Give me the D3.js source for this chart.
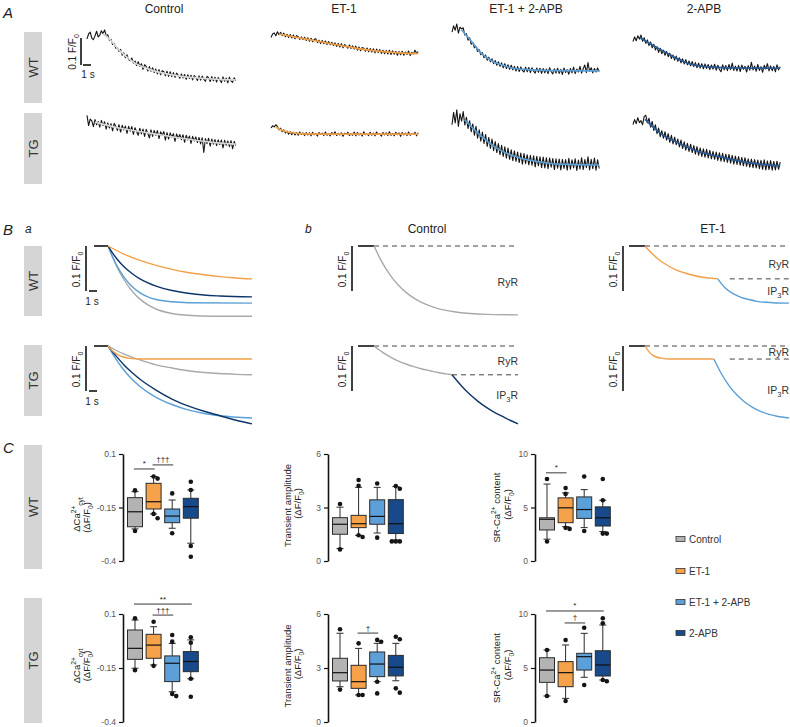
<!DOCTYPE html>
<html><head><meta charset="utf-8">
<script src="https://cdn.jsdelivr.net/npm/d3@7"></script>
<style>body{margin:0;background:#fff}svg{display:block}text{font-family:"Liberation Sans",Arial,Helvetica,sans-serif}</style>
</head><body><svg id="c" width="790" height="727"></svg>
<script>
// ---------------- DATA ----------------
const conditions = ["Control", "ET-1", "ET-1 + 2-APB", "2-APB"];
const genotypes = ["WT", "TG"];
const traceStep = 0.2; // s between samples

// Panel A: raw Ca2+ traces (units of 0.01 F/F0, relative)
const traceWTControl = [17.1,18.9,19.6,17.4,16.8,18.2,19.9,17.8,18.5,20.1,19.0,
  20.4,18.2,18.6,16.5,16.9,15.0,15.4,13.6,13.9,12.4,
  13.2,11.0,11.9,10.1,11.2,9.4,9.0,10.0,8.1,8.9,
  7.2,8.6,6.9,7.9,5.8,7.5,6.9,5.2,6.8,5.1,
  6.4,4.6,5.9,4.1,5.7,3.8,5.3,4.9,3.4,5.1,
  3.2,4.9,3.1,4.6,2.8,4.4,3.7,2.5,4.1,2.6,
  3.9,2.1,3.8,2.4,3.6,1.9,3.5,2.9,1.7,3.4,
  1.8,3.3,2.1,1.4,3.2,2.7,1.3,3.1,1.6,2.9,
  1.1,2.8,1.9,0.9,3.0,1.4,2.6,0.8,2.9,1.5,1.0,2.7,1.6];
const traceWTET1 = [17.6,18.9,19.3,18.2,19.7,18.6,19.5,18.3,19.2,17.9,18.8,
  17.6,18.7,17.4,18.5,17.1,18.3,17.9,16.9,17.8,16.8,
  17.7,16.5,17.5,16.2,17.3,16.0,16.9,17.1,15.7,16.6,
  15.4,16.5,15.3,16.3,15.0,16.1,14.9,15.8,14.6,15.6,
  14.3,15.4,14.1,15.3,13.8,15.0,14.4,13.6,14.8,13.5,
  14.5,13.3,14.4,12.9,14.1,12.7,13.9,13.6,12.5,13.7,
  12.3,13.5,12.2,13.4,11.9,13.3,12.0,13.1,11.7,12.9,
  11.6,12.8,11.5,12.9,11.3,12.7,11.4,12.5,11.0,12.4,
  11.2,12.5,11.0,12.2,11.3,12.6,10.9,12.1,11.5,12.9,11.8,12.4];
const traceWTET1APB = [19.6,21.9,20.3,22.6,19.2,21.4,20.8,
  21.2,18.5,19.0,16.6,17.5,15.1,15.7,13.8,14.2,12.4,
  13.1,11.2,12.0,10.1,11.1,9.2,10.3,8.6,9.7,7.9,
  9.1,7.3,8.6,6.9,8.2,6.4,7.9,6.1,7.5,5.8,
  7.3,5.6,6.9,5.2,6.8,5.0,6.7,5.4,4.8,6.6,
  4.9,6.5,4.6,6.4,5.1,4.4,6.3,4.7,6.2,4.3,
  6.1,4.5,5.9,4.2,6.4,5.0,4.1,6.0,4.4,6.2,
  4.3,5.8,3.9,6.3,4.6,5.7,4.0,6.1,4.5,6.6,
  4.2,5.9,4.8,6.9,4.4,6.0,7.4,4.6,8.3,5.1,
  6.4,4.5,6.1,4.8,6.3,5.0];
const traceWTAPB = [16.1,17.8,16.4,18.2,17.0,18.5,
  16.2,17.5,15.4,16.7,14.6,15.9,13.8,15.1,13.0,14.2,
  12.1,13.6,11.6,12.9,11.0,12.4,10.5,11.8,9.8,11.1,
  9.2,10.7,8.8,10.1,8.2,9.7,7.8,9.4,7.5,8.9,
  7.1,8.7,6.8,8.3,6.4,8.1,6.3,7.9,6.0,7.8,
  6.1,7.6,5.7,7.4,5.9,7.7,5.5,7.3,5.8,4.9,
  7.5,5.6,7.2,5.3,7.6,5.7,8.1,5.4,7.0,5.2,
  7.3,5.0,7.4,5.8,6.9,4.8,7.2,5.5,8.4,5.6,
  7.0,5.1,7.6,5.4,6.8,4.7,7.3,5.9,7.9,5.2,
  7.1,5.3,6.9,4.9,7.5,5.6,6.8];
const traceTGControl = [21.0,17.2,19.6,18.9,16.8,19.4,17.5,18.7,16.6,19.1,17.2,
  18.6,15.9,18.2,16.3,17.9,15.2,18.0,16.9,15.4,17.5,
  14.8,17.3,15.6,17.0,14.3,16.9,15.1,16.8,13.9,16.4,
  15.0,13.6,16.2,14.1,15.9,13.2,15.8,14.4,12.6,15.6,
  13.2,15.4,13.6,15.3,12.4,14.9,13.5,15.0,11.8,14.6,
  12.2,14.5,12.9,14.2,11.3,14.1,12.5,13.9,12.0,13.8,
  11.0,13.6,11.9,13.3,10.6,13.2,11.5,13.0,10.9,12.8,
  10.4,12.7,7.2,12.4,10.5,12.5,9.6,12.2,10.3,12.0,
  9.8,11.9,10.2,11.8,8.9,11.7,9.9,11.5,9.4,11.6,8.6,11.3,9.8];
const traceTGET1 = [16.3,17.1,16.7,17.5,
  16.9,15.6,16.2,14.9,15.6,14.4,15.2,14.0,14.9,13.8,
  14.7,13.7,14.6,13.6,14.8,13.9,14.5,13.5,14.6,13.7,
  14.5,13.4,14.7,13.8,14.3,13.3,14.6,13.9,14.4,13.5,
  14.8,13.6,14.2,13.4,14.6,13.8,14.9,13.5,14.3,13.7,
  14.5,13.2,14.4,13.9,14.7,13.5,14.2,13.6,14.8,13.4,
  14.6,13.7,14.3,13.3,14.9,13.8,14.1,13.5,14.7,13.6,
  14.4,13.4,14.8,13.9,14.2,13.3,14.6,13.7,14.5,13.5,
  14.9,13.6,14.3,13.4,14.7,13.8,14.5,13.2,14.6,13.7,
  14.4,13.5,14.8,13.6,14.2,13.9,14.7,13.4,14.5];
const traceTGET1APB = [17.5,22.1,18.2,23.0,16.9,21.6,18.8,22.4,
  17.4,20.3,16.1,19.0,14.9,17.8,13.6,16.9,12.5,15.6,
  11.4,14.8,10.6,13.9,9.5,12.8,8.7,12.2,7.9,11.3,
  7.2,10.5,6.4,9.9,5.8,9.3,5.1,8.9,4.7,8.2,
  4.2,7.8,3.9,7.4,3.5,7.0,2.9,6.8,3.1,6.4,
  2.6,6.2,2.5,6.0,1.9,5.8,2.3,5.6,1.6,5.5,
  1.5,5.3,1.2,5.2,1.8,5.0,0.9,4.9,1.4,4.8,
  0.8,4.7,1.3,4.6,0.7,5.1,1.0,4.5,1.5,4.9,
  0.6,4.4,1.1,5.3,0.9,4.6,1.6,5.6,0.8,4.7,
  1.2,5.2,0.7,4.5,1.3];
const traceTGAPB = [17.6,19.4,17.9,20.1,18.3,19.0,17.5,20.6,
  21.0,18.2,19.9,16.6,18.7,15.4,17.5,14.2,16.3,13.1,
  15.3,12.5,14.9,11.8,14.2,11.0,13.6,10.4,12.9,10.1,
  12.2,9.3,11.8,8.7,11.2,8.1,10.6,7.6,10.3,7.2,
  9.8,6.6,9.4,6.2,8.9,5.8,8.6,5.5,8.4,5.2,
  8.0,4.9,7.6,4.7,7.4,4.3,7.1,4.0,6.9,3.8,
  6.6,3.6,6.5,3.3,6.2,2.9,5.9,2.8,5.7,2.5,
  5.4,2.3,5.3,2.1,4.9,1.8,4.8,1.6,4.6,1.5,
  4.4,1.2,4.3,1.0,4.5,0.8,4.1,0.9,4.2,0.7,
  3.9,0.8,4.0,1.0,3.7];

// Panel A: exponential fits [time s, value]
const fitWTControl = [[2.0,19.0],[2.8,17.0],[4,13.0],[6,8.1],[8,5.6],[10,4.1],[12,3.1],[14,2.6],[16,2.2],[18.6,1.9]];
const fitWTET1 = [[1.0,18.9],[4,17.2],[8,15.0],[12,13.0],[16,11.9],[18.4,11.6]];
const fitWTET1APB = [[1.2,20.4],[2.5,15.9],[3.75,11.5],[5,8.9],[6.25,7.4],[7.5,6.3],[10,5.6],[12.5,5.3],[18.4,5.2]];
const fitWTAPB = [[0.9,17.4],[4,12.2],[5.9,9.3],[7.1,7.8],[9.6,6.7],[13,6.3],[18.4,6.2]];
const fitTGControl = [[1.0,18.5],[4,16.3],[7.9,14.4],[11.6,12.6],[15.4,11.1],[18.6,10.3]];
const fitTGET1 = [[0.6,16.7],[1.5,15.3],[2.8,14.5],[4,14.1],[8,14.0],[18.4,14.0]];
const fitTGET1APB = [[1.6,19.3],[3.5,13.7],[6,8.1],[8.5,5.2],[11,3.7],[13.5,2.9],[18.4,2.6]];
const fitTGAPB = [[1.5,19.5],[3.4,14.4],[5.9,10.4],[8.4,7.4],[10.9,5.6],[13.4,4.0],[15.9,2.9],[18.4,2.3]];

// Panel Ba: modelled decay (drop in 0.01 F/F0) [time s, drop]
const modelWTControl = [[0,0],[1,4.2],[2,7.5],[3,10.0],[4,11.8],[5,13.1],[6,14.0],[8,15.0],[10,15.4],[13,15.6],[18,15.6]];
const modelWTET1 = [[0,0],[2,1.8],[4,3.2],[6,4.3],[8,5.2],[10,5.9],[12,6.4],[14,6.8],[16,7.1],[18,7.3]];
const modelWTET1APB = [[0,0],[1,4.0],[2,6.9],[3,9.0],[4,10.4],[5,11.3],[6,11.9],[8,12.4],[10,12.6],[18,12.7]];
const modelWTAPB = [[0,0],[1,2.6],[2,4.6],[3,6.1],[4,7.3],[6,8.9],[8,9.9],[10,10.5],[12,10.9],[14,11.1],[18,11.3]];
const modelTGControl = [[0,0],[2,1.8],[4,3.1],[6,4.2],[8,4.9],[10,5.5],[12,5.9],[14,6.1],[16,6.3],[18,6.4]];
const modelTGET1 = [[0,0],[0.5,1.0],[1,1.7],[1.5,2.2],[2,2.5],[3,2.8],[4,2.9],[18,2.9]];
const modelTGET1APB = [[0,0],[1,2.9],[2,5.4],[3,7.4],[4,9.0],[6,11.4],[8,13.0],[10,14.2],[12,15.0],[14,15.5],[18,16.0]];
const modelTGAPB = [[0,0],[1,2.2],[2,4.2],[3,5.9],[4,7.4],[6,9.8],[8,11.8],[10,13.3],[12,14.5],[14,15.5],[16,16.5],[18,17.3]];

// Panel Bb: RyR / IP3R components
const bbCtrlWT_RyR = [[0,0],[1,3.6],[2,6.4],[3,8.6],[4,10.3],[5,11.6],[6,12.6],[8,13.9],[10,14.6],[12,15.0],[14,15.2],[18,15.3]];
const bbCtrlTG_RyR = [[0,0],[1,1.3],[2,2.4],[3,3.3],[4,4.0],[5,4.6],[6,5.1],[7,5.5],[8,5.9],[9,6.2],[9.75,6.4]];
const bbCtrlTG_IP3R = [[9.75,6.4],[11,9.0],[12,10.8],[13,12.3],[14,13.6],[15,14.7],[16,15.6],[17,16.5],[18,17.3]];
const bbET1WT_RyR = [[0,0],[1,1.9],[2,3.4],[3,4.5],[4,5.4],[5,6.0],[6,6.5],[7,6.9],[8,7.1],[9.1,7.3]];
const bbET1WT_IP3R = [[9.1,7.3],[10,9.3],[11,10.6],[12,11.4],[13,11.9],[14,12.3],[16,12.6],[18,12.7]];
const bbET1TG_RyR = [[0,0],[0.5,1.3],[1,2.1],[1.5,2.5],[2,2.7],[3,2.9],[8.6,2.9]];
const bbET1TG_IP3R = [[8.6,2.9],[9.5,6.0],[10.5,8.8],[11.5,10.9],[12.5,12.5],[13.5,13.7],[14.5,14.6],[15.5,15.2],[16.5,15.6],[18,16.0]];
const bbDashLevels = { ctrlTG: [9.75, 6.4], et1WT: [10.6, 7.3], et1TG: [10.6, 2.9] }; // [start s, level]

// Panel C: box statistics [min whisker, Q1, median, Q3, max whisker]
const caTicks = [0.1, -0.15, -0.4];
const ampTicks = [0, 3, 6];
const srTicks = [0, 5, 10];
const caWT = [[-0.25,-0.24,-0.17,-0.104,-0.076],[-0.18,-0.157,-0.123,-0.037,-0.005],[-0.247,-0.221,-0.19,-0.157,-0.115],[-0.317,-0.2,-0.146,-0.107,-0.068]];
const caWTDots = [[-0.07,-0.26],[-0.005,-0.015,-0.18,-0.2],[-0.084,-0.27],[-0.03,-0.068,-0.33,-0.38]];
const ampWT = [[0.7,1.5,2.06,2.43,3.02],[1.44,1.87,2.09,2.56,4.13],[1.57,2.06,2.5,3.43,4.13],[1.17,1.54,2.09,3.44,4.17]];
const ampWTDots = [[3.2,0.65],[4.54,4.22,1.44,1.35],[4.35,1.31],[4.2,4.05,1.1,1.1,1.1]];
const srWT = [[2.04,2.9,3.9,4.04,7.19],[3.21,3.58,4.97,5.9,6.36],[3.12,3.98,4.81,5.99,6.67],[2.75,3.27,4.04,5.06,5.68]];
const srWTDots = [[7.66,1.82],[6.82,6.27,3.1,3.0],[7.9,2.8],[7.66,5.68,2.56,2.56]];
const caTG = [[-0.151,-0.11,-0.059,0.026,0.072],[-0.136,-0.105,-0.044,0.006,0.041],[-0.26,-0.213,-0.128,-0.094,-0.036],[-0.2,-0.167,-0.12,-0.074,-0.02]];
const caTGDots = [[0.08,-0.16],[0.064,-0.14],[0.003,-0.028,-0.27,-0.28],[-0.008,-0.033,-0.2,-0.283]];
const ampTG = [[1.96,2.28,2.74,3.54,4.93],[1.5,1.87,2.24,3.15,4.09],[2.24,2.52,3.22,3.89,4.37],[2.29,2.56,3.04,3.7,4.37]];
const ampTGDots = [[5.15,1.8],[4.37,1.5,1.5],[4.56,4.46,2.24,1.59],[4.74,4.6,1.87,1.63]];
const srTG = [[2.41,3.67,4.81,5.95,6.67],[2.19,3.27,4.57,5.59,7.13],[4.14,4.81,6.05,6.36,8.21],[3.89,4.26,5.28,6.6,8.98]];
const srTGDots = [[6.67,2.41],[7.59,1.94],[8.73,3.43],[9.6,9.14,3.89,3.78]];
// significance brackets: [from index, to index, level (data units), label]
const caWTSig = [[0,1,0.03,"*"],[1,2,0.049,"†††"]];
const ampWTSig = [];
const srWTSig = [[0,1,8.24,"*"]];
const caTGSig = [[0,3,0.146,"**"],[1,2,0.095,"†††"]];
const ampTGSig = [[1,2,4.94,"†"]];
const srTGSig = [[0,3,10.28,"*"],[1,2,9.17,"†"]];

// ---------------- STYLE ----------------
const boxColors = ["#b3b3b3", "#f5a24a", "#5d9fd7", "#18498a"];
const curveColors = ["#a9a9a9", "#f2a046", "#5a9fd6", "#0d3568"];
const fitColors = ["#d9d9d9", "#f2a046", "#5a9fd6", "#2a5c9a"];

const svg = d3.select("#c");
svg.append("rect").attr("width", 790).attr("height", 727).attr("fill", "#fff");

function text(x, y, str, size, opts = {}) {
  const t = svg.append("text").attr("x", x).attr("y", y).attr("font-size", size)
    .attr("fill", opts.fill || "#222").attr("text-anchor", opts.anchor || "start");
  if (opts.italic) t.attr("font-style", "italic");
  t.text(str);
  return t;
}
function rotText(x, y, size) {
  return svg.append("g").attr("transform", `translate(${x},${y}) rotate(-90)`)
    .append("text").attr("text-anchor", "middle").attr("font-size", size).attr("fill", "#222");
}
function ffLabel(x, y, size) {
  const t = rotText(x, y, size);
  t.append("tspan").text("0.1 F/F");
  t.append("tspan").attr("font-size", size * 0.7).attr("dy", size * 0.3).text("0");
}
function dfLabel(t, size) {
  t.append("tspan").text("(ΔF/F");
  t.append("tspan").attr("font-size", size * 0.7).attr("dy", size * 0.3).text("0");
  t.append("tspan").attr("dy", -size * 0.3).text(")");
}
function rowBox(y, h, label) {
  svg.append("rect").attr("x", 24).attr("y", y).attr("width", 18).attr("height", h).attr("fill", "#d5d5d5");
  svg.append("g").attr("transform", `translate(33,${y + h / 2}) rotate(-90)`).append("text")
    .attr("text-anchor", "middle").attr("dy", "0.36em").attr("font-size", 13).attr("fill", "#333").text(label);
}
function line(x1, y1, x2, y2, stroke, w, dash) {
  const l = svg.append("line").attr("x1", x1).attr("y1", y1).attr("x2", x2).attr("y2", y2)
    .attr("stroke", stroke).attr("stroke-width", w);
  if (dash) l.attr("stroke-dasharray", dash);
  return l;
}

// panel letters
text(3, 18, "A", 15, { italic: true });
text(3, 235, "B", 15, { italic: true });
text(25, 233, "a", 12, { italic: true });
text(305, 233, "b", 12, { italic: true });
text(3, 453, "C", 15, { italic: true });

rowBox(32, 71, "WT"); rowBox(113, 71, "TG");
rowBox(246, 70, "WT"); rowBox(345, 71, "TG");
rowBox(445, 124, "WT"); rowBox(598, 125, "TG");

// ---------------- PANEL A ----------------
const aCols = [87, 271, 452, 633];
const aBase = { WT: 85, TG: 172 };
const aTraces = { WT: [traceWTControl, traceWTET1, traceWTET1APB, traceWTAPB], TG: [traceTGControl, traceTGET1, traceTGET1APB, traceTGAPB] };
const aFits = { WT: [fitWTControl, fitWTET1, fitWTET1APB, fitWTAPB], TG: [fitTGControl, fitTGET1, fitTGET1APB, fitTGAPB] };
const aTitleX = [164, 344, 526, 704];
conditions.forEach((c, i) => text(aTitleX[i], 13, c, 12, { anchor: "middle" }));

genotypes.forEach(g => {
  conditions.forEach((c, i) => {
    const x = d3.scaleLinear().domain([0, 1]).range([aCols[i], aCols[i] + 8]);
    const y = d3.scaleLinear().domain([0, 10]).range([aBase[g], aBase[g] - 27]);
    svg.append("path").datum(aTraces[g][i])
      .attr("d", d3.line().x((d, j) => x(j * traceStep)).y(d => y(d)))
      .attr("fill", "none").attr("stroke", "#141414").attr("stroke-width", 1.1).attr("stroke-linejoin", "round");
    svg.append("path").datum(aFits[g][i])
      .attr("d", d3.line().x(d => x(d[0])).y(d => y(d[1])).curve(d3.curveMonotoneX))
      .attr("fill", "none").attr("stroke", fitColors[i]).attr("stroke-width", 1.7);
    if (g === "WT" && i === 0) {
      const barLen = y(0) - y(10);
      line(81, 65, 81, 65 - barLen, "#111", 1.6);
      line(83, 65, 83 + (x(1) - x(0)), 65, "#111", 1.6);
      text(88, 78, "1 s", 10, { anchor: "middle" });
      ffLabel(76, 52, 10);
    }
  });
});

// ---------------- PANEL B a ----------------
const baModels = { WT: [modelWTControl, modelWTET1, modelWTET1APB, modelWTAPB], TG: [modelTGControl, modelTGET1, modelTGET1APB, modelTGAPB] };
const baBase = { WT: 246, TG: 346 };
const baOrder = [0, 2, 3, 1];
genotypes.forEach(g => {
  const x = d3.scaleLinear().domain([0, 18]).range([108, 252]);
  const y = d3.scaleLinear().domain([0, 10]).range([baBase[g], baBase[g] + 45]);
  line(x(-1.75), y(0), x(0), y(0), "#111", 1.6);
  baOrder.forEach(i => {
    svg.append("path").datum(baModels[g][i])
      .attr("d", d3.line().x(d => x(d[0])).y(d => y(d[1])).curve(d3.curveMonotoneX))
      .attr("fill", "none").attr("stroke", curveColors[i]).attr("stroke-width", 1.4);
  });
  line(86, y(0), 86, y(10), "#111", 1.6);
  line(89, y(10), 89 + (x(1) - x(0)), y(10), "#111", 1.6);
  text(92, y(10) + 14, "1 s", 10, { anchor: "middle" });
  ffLabel(80, (y(0) + y(10)) / 2 + 1, 10);
});

// ---------------- PANEL B b ----------------
text(427, 233, "Control", 12, { anchor: "middle" });
text(713, 233, "ET-1", 12, { anchor: "middle" });
function recLabel(x, y, ip3) {
  const t = text(x, y, "", 10.5, { anchor: "end", fill: "#333" });
  if (ip3) {
    t.append("tspan").text("IP");
    t.append("tspan").attr("font-size", 7.5).attr("dy", 3).text("3");
    t.append("tspan").attr("dy", -3).text("R");
  } else t.text("RyR");
}
function bbPanel(x0, barX, base, comps, dash, labels) {
  const x = d3.scaleLinear().domain([0, 18]).range([x0, x0 + 144]);
  const y = d3.scaleLinear().domain([0, 10]).range([base, base + 45]);
  line(x(-2), y(0), x(0), y(0), "#111", 1.6);
  line(x(0), y(0), x(18), y(0), "#444", 1, "5,4");
  if (dash) line(x(dash[0]), y(dash[1]), x(18), y(dash[1]), "#444", 1, "5,4");
  comps.forEach(([pts, col]) => {
    svg.append("path").datum(pts)
      .attr("d", d3.line().x(d => x(d[0])).y(d => y(d[1])).curve(d3.curveMonotoneX))
      .attr("fill", "none").attr("stroke", col).attr("stroke-width", 1.4);
  });
  line(barX, y(0), barX, y(10), "#111", 1.6);
  ffLabel(barX - 6, (y(0) + y(10)) / 2 + 1, 10);
  labels.forEach(([ly, ip3]) => recLabel(x(18), ly, ip3));
}
bbPanel(374, 352, 246, [[bbCtrlWT_RyR, curveColors[0]]], null, [[286, false]]);
bbPanel(374, 352, 346, [[bbCtrlTG_RyR, curveColors[0]], [bbCtrlTG_IP3R, curveColors[3]]], bbDashLevels.ctrlTG, [[365, false], [399, true]]);
bbPanel(645, 623, 246, [[bbET1WT_RyR, curveColors[1]], [bbET1WT_IP3R, curveColors[2]]], bbDashLevels.et1WT, [[268, false], [295, true]]);
bbPanel(645, 623, 346, [[bbET1TG_RyR, curveColors[1]], [bbET1TG_IP3R, curveColors[2]]], bbDashLevels.et1TG, [[356, false], [394, true]]);

// ---------------- PANEL C ----------------
const cRows = { WT: [561, 454], TG: [722, 614] };
const metrics = [
  { axX: 123, domain: [-0.4, 0.1], ticks: caTicks, data: { WT: [caWT, caWTDots, caWTSig], TG: [caTG, caTGDots, caTGSig] } },
  { axX: 328, domain: [0, 6], ticks: ampTicks, data: { WT: [ampWT, ampWTDots, ampWTSig], TG: [ampTG, ampTGDots, ampTGSig] } },
  { axX: 535, domain: [0, 10], ticks: srTicks, data: { WT: [srWT, srWTDots, srWTSig], TG: [srTG, srTGDots, srTGSig] } }
];
genotypes.forEach(g => {
  const [yb, yt] = cRows[g];
  metrics.forEach((m, mi) => {
    const y = d3.scaleLinear().domain(m.domain).range([yb, yt]);
    const xp = d3.scalePoint().domain(conditions).range([m.axX + 12, m.axX + 12 + 3 * 18.6]);
    const ax = svg.append("g").attr("transform", `translate(${m.axX},0)`)
      .call(d3.axisLeft(y).tickValues(m.ticks).tickSize(4).tickSizeOuter(0).tickPadding(3).tickFormat(d => String(d)));
    ax.select(".domain").attr("stroke", "#111").attr("stroke-width", 1.6);
    ax.selectAll(".tick line").attr("stroke", "#111").attr("stroke-width", 1.2);
    ax.selectAll(".tick text").attr("font-size", 8.5).attr("fill", "#555").attr("font-family", '"Liberation Sans",Arial,sans-serif');
    const [stats, dots, sig] = m.data[g];
    const bw = 15;
    conditions.forEach((c, i) => {
      const cx = xp(c);
      const [lo, q1, med, q3, hi] = stats[i];
      line(cx, y(hi), cx, y(q3), "#2a2a2a", 1);
      line(cx, y(q1), cx, y(lo), "#2a2a2a", 1);
      line(cx - 3.5, y(hi), cx + 3.5, y(hi), "#2a2a2a", 1);
      line(cx - 3.5, y(lo), cx + 3.5, y(lo), "#2a2a2a", 1);
      svg.append("rect").attr("x", cx - bw / 2).attr("y", y(q3)).attr("width", bw).attr("height", y(q1) - y(q3))
        .attr("fill", boxColors[i]).attr("stroke", "#2a2a2a").attr("stroke-width", 1);
      line(cx - bw / 2, y(med), cx + bw / 2, y(med), "#111", 1.2);
      const placed = [];
      dots[i].forEach(v => {
        const py = y(v);
        const near = placed.filter(p => Math.abs(p - py) < 4.5).length;
        placed.push(py);
        const off = near === 0 ? 0 : (near % 2 === 1 ? 4 : -4) * Math.ceil(near / 2);
        svg.append("circle").attr("cx", cx + off).attr("cy", py).attr("r", 2.3).attr("fill", "#151515");
      });
    });
    sig.forEach(([a, b, lv, lab]) => {
      const x1 = xp(conditions[a]), x2 = xp(conditions[b]);
      line(x1 - 1, y(lv), x2 + 1, y(lv), "#222", 0.9);
      text((x1 + x2) / 2, y(lv) - 2.5, lab, 8, { anchor: "middle" });
    });
    const cy = (yb + yt) / 2;
    if (mi === 0) {
      const t1 = rotText(80, cy + (g === "WT" ? 7 : -2), 9.5);
      t1.append("tspan").text("ΔCa");
      t1.append("tspan").attr("font-size", 6.7).attr("dy", -4).text("2+");
      t1.append("tspan").attr("font-size", 6.7).attr("dy", 7).text("cyt");
      const t2 = rotText(90, cy + (g === "WT" ? 10 : -2), 9.5);
      dfLabel(t2, 9.5);
    } else if (mi === 1) {
      rotText(291, cy - 2, 9.5).text("Transient amplitude");
      dfLabel(rotText(301, cy - 4, 9.5), 9.5);
    } else {
      const t1 = rotText(500, cy, 9.5);
      t1.append("tspan").text("SR-Ca");
      t1.append("tspan").attr("font-size", 6.7).attr("dy", -4).text("2+");
      t1.append("tspan").attr("dy", 4).text(" content");
      dfLabel(rotText(511, cy - 3, 9.5), 9.5);
    }
  });
});

// legend
const legY = [539, 571, 602, 633];
conditions.forEach((c, i) => {
  svg.append("rect").attr("x", 676).attr("y", legY[i] - 2.5).attr("width", 9).attr("height", 5)
    .attr("fill", boxColors[i]).attr("stroke", "#333").attr("stroke-width", 0.8);
  text(689, legY[i] + 3.5, c, 10, { fill: "#333" });
});
</script></body></html>
